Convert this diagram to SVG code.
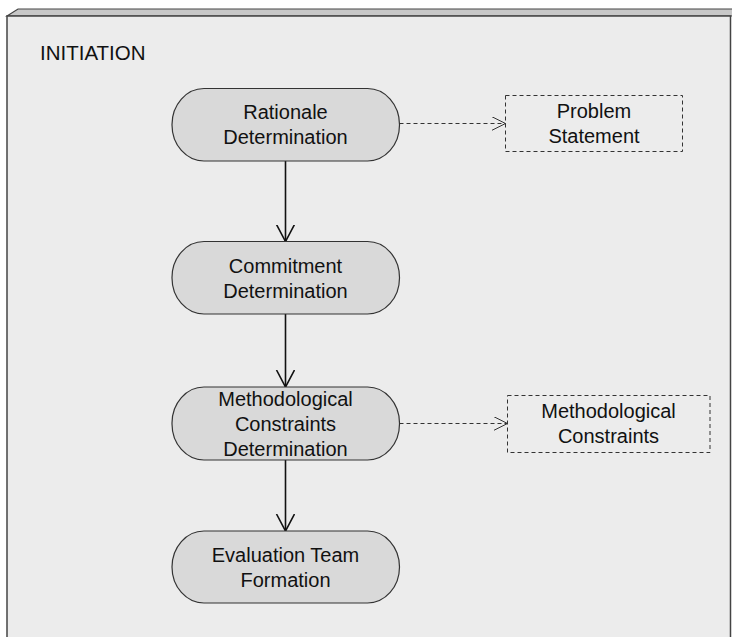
<svg xmlns="http://www.w3.org/2000/svg" width="732" height="637" viewBox="0 0 732 637">
<defs>
<style>
.t{font-family:"Liberation Sans",Arial,sans-serif;font-size:20px;fill:#111;text-anchor:middle}
.node{fill:#d9d9d9;stroke:#333;stroke-width:1.2}
.art{fill:none;stroke:#333;stroke-width:1;stroke-dasharray:4,3}
.flow{fill:none;stroke:#111;stroke-width:1.6}
.dash{fill:none;stroke:#333;stroke-width:1;stroke-dasharray:4,3}
</style>
<marker id="ah" markerWidth="20" markerHeight="20" refX="17" refY="9" orient="auto" markerUnits="userSpaceOnUse">
<path d="M0,0 L17,9 L0,18" fill="none" stroke="#111" stroke-width="1.6"/>
</marker>
<marker id="ahd" markerWidth="16" markerHeight="16" refX="14" refY="7" orient="auto" markerUnits="userSpaceOnUse">
<path d="M0,0 L14,7 L0,14" fill="none" stroke="#333" stroke-width="1"/>
</marker>
</defs>
<rect width="732" height="637" fill="#fff"/>
<g id="frame">
<polygon points="7,16 18,9 735,9 735,16" fill="#c8c8c8" stroke="#444" stroke-width="1.2"/>
<rect x="7" y="16" width="723.5" height="630" fill="#ececec" stroke="#444" stroke-width="1.5"/>
<text class="t" x="40" y="60" style="text-anchor:start;font-size:20.5px">INITIATION</text>
</g>
<g id="connectors">
<line class="flow" x1="285.5" y1="161" x2="285.5" y2="241.5" marker-end="url(#ah)"/>
<line class="flow" x1="285.5" y1="314" x2="285.5" y2="387" marker-end="url(#ah)"/>
<line class="flow" x1="285.5" y1="460" x2="285.5" y2="531" marker-end="url(#ah)"/>
<line class="dash" x1="399.5" y1="123.5" x2="505.5" y2="123.5" marker-end="url(#ahd)"/>
<line class="dash" x1="399.5" y1="423.5" x2="507.5" y2="423.5" marker-end="url(#ahd)"/>
</g>
<g id="rationale">
<rect class="node" x="172" y="88.5" width="227.5" height="72.5" rx="32" ry="36"/>
<text class="t" x="285.5" y="119">Rationale</text>
<text class="t" x="285.5" y="144">Determination</text>
</g>
<g id="commitment">
<rect class="node" x="172" y="241.5" width="227.5" height="72.5" rx="32" ry="36"/>
<text class="t" x="285.5" y="272.5">Commitment</text>
<text class="t" x="285.5" y="297.5">Determination</text>
</g>
<g id="methodological">
<rect class="node" x="172" y="387" width="227.5" height="73" rx="32" ry="36"/>
<text class="t" x="285.5" y="405.5">Methodological</text>
<text class="t" x="285.5" y="430.5">Constraints</text>
<text class="t" x="285.5" y="455.5">Determination</text>
</g>
<g id="evaluation">
<rect class="node" x="172" y="531" width="227.5" height="72" rx="32" ry="36"/>
<text class="t" x="285.5" y="561.5">Evaluation Team</text>
<text class="t" x="285.5" y="586.5">Formation</text>
</g>
<g id="problem">
<rect class="art" x="505.5" y="95.5" width="177" height="56"/>
<text class="t" x="594" y="117.5">Problem</text>
<text class="t" x="594" y="142.5">Statement</text>
</g>
<g id="constraints">
<rect class="art" x="507.5" y="395.5" width="202.5" height="57"/>
<text class="t" x="608.5" y="417.5">Methodological</text>
<text class="t" x="608.5" y="442.5">Constraints</text>
</g>
</svg>
